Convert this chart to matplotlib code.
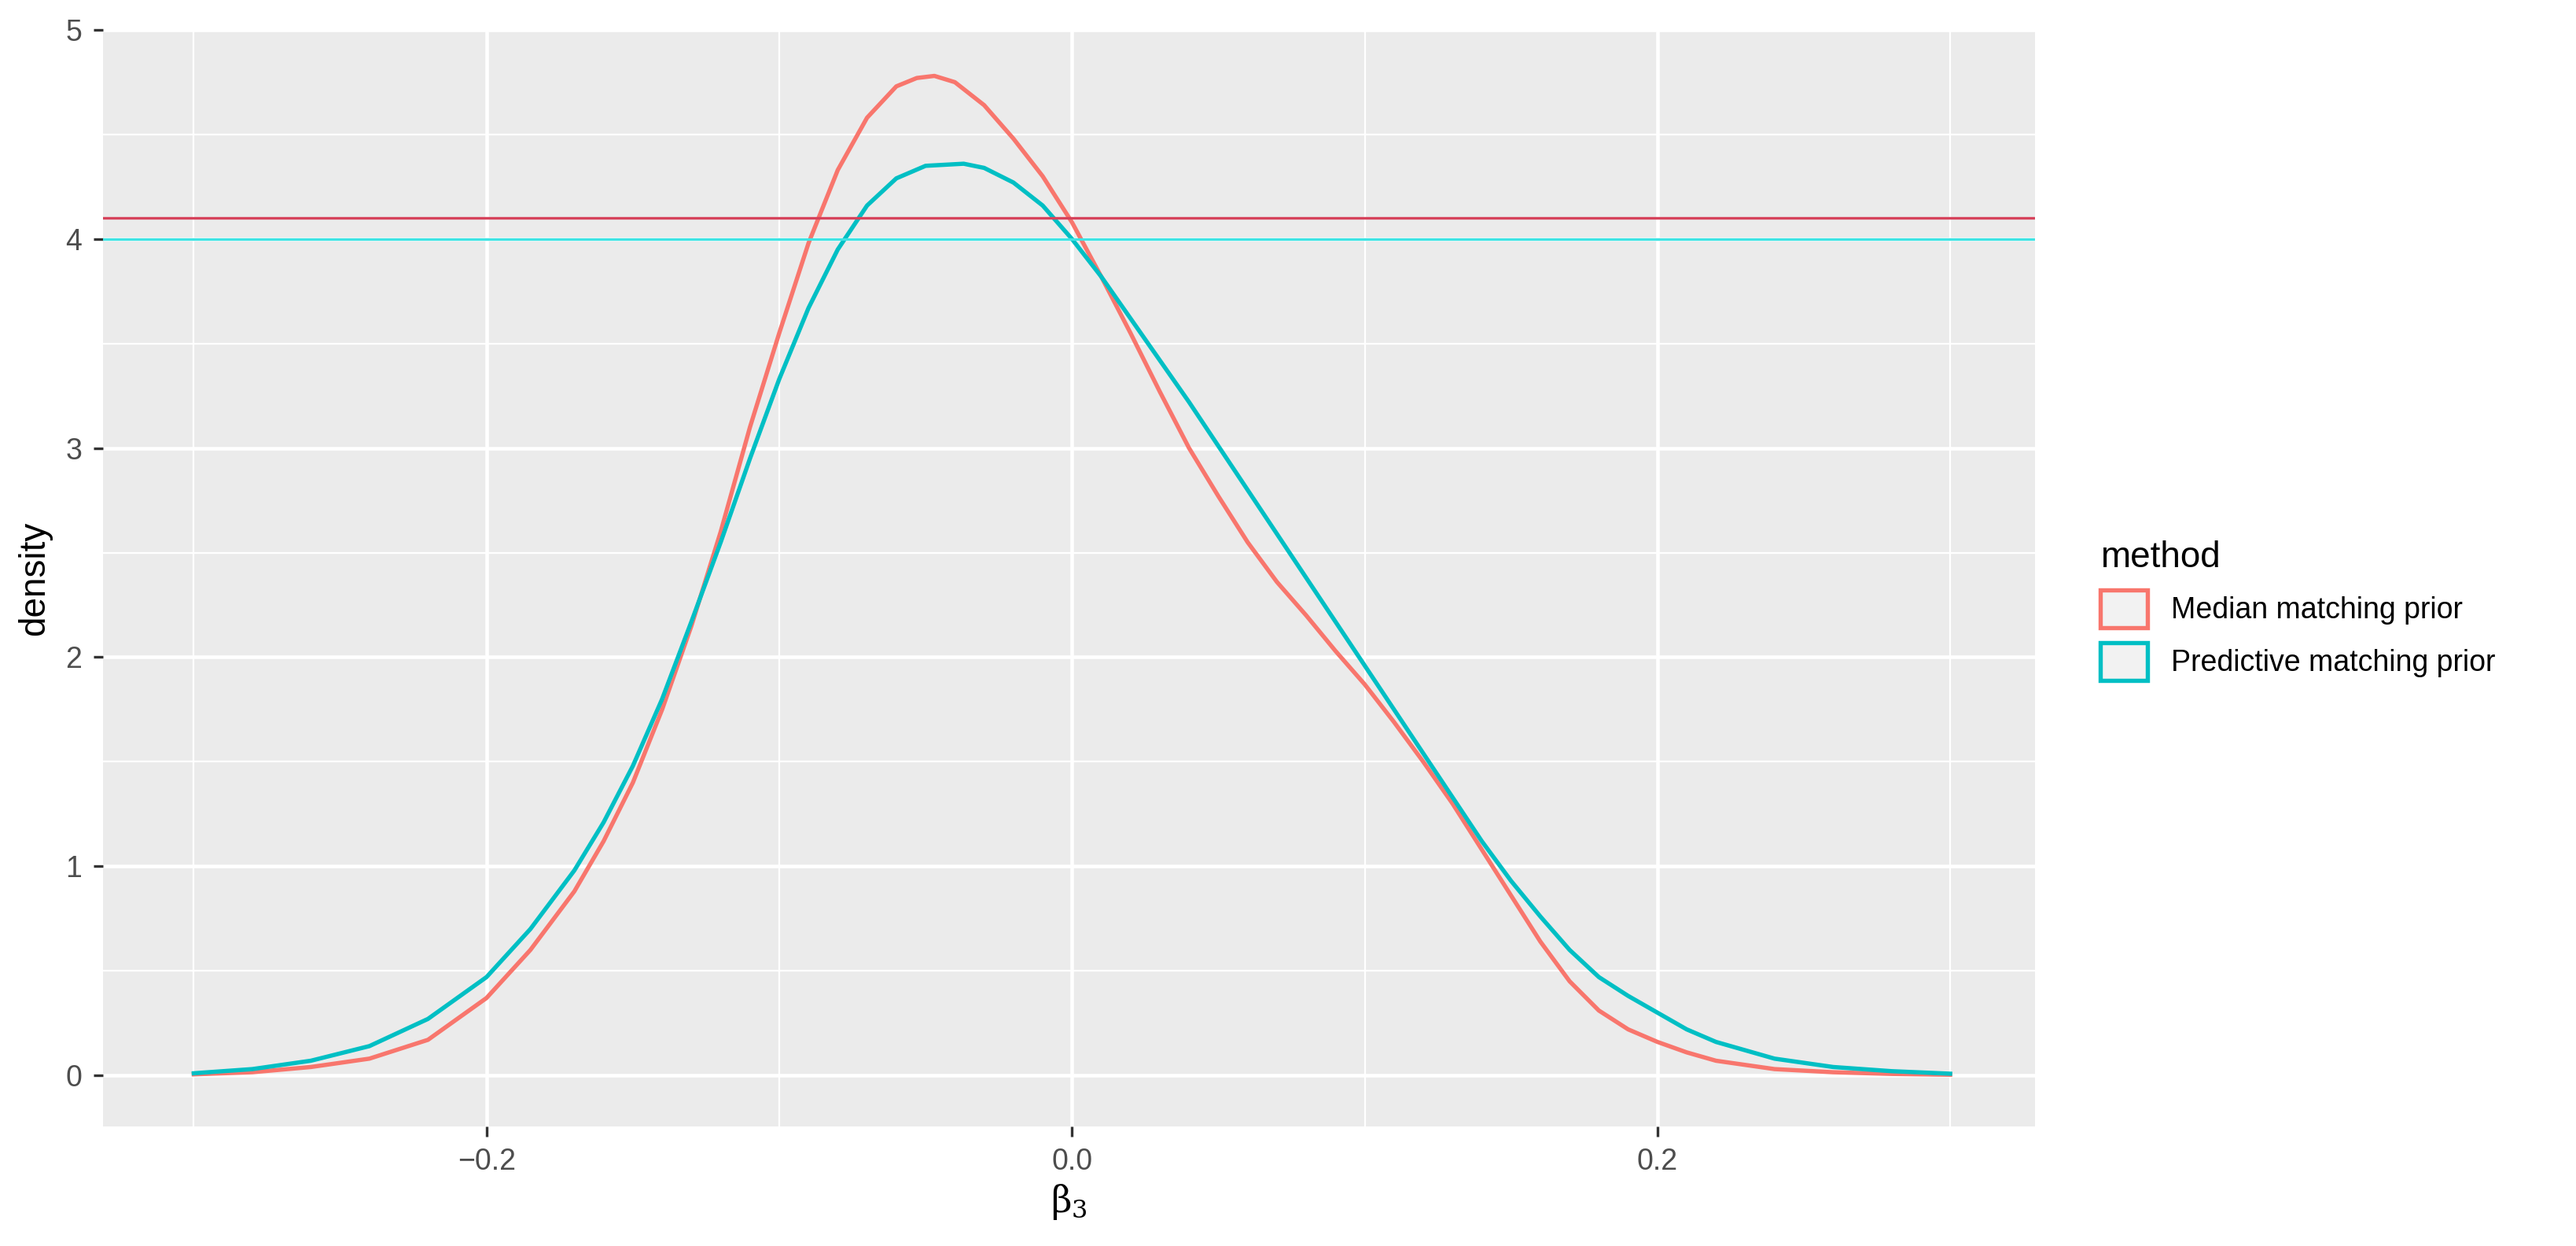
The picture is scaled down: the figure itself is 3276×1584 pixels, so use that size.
import matplotlib.pyplot as plt
from matplotlib.patches import Patch

plt.rcParams['font.family'] = ['Liberation Sans', 'DejaVu Sans']
plt.rcParams['mathtext.fontset'] = 'dejavuserif'

x_median = [-0.3, -0.28, -0.26, -0.24, -0.22, -0.2, -0.185, -0.17, -0.16, -0.15, -0.14, -0.13, -0.12, -0.11,
            -0.1, -0.09, -0.08, -0.07, -0.06, -0.053, -0.047, -0.04, -0.03, -0.02, -0.01, 0.0,
            0.01, 0.02, 0.03, 0.04, 0.05, 0.06, 0.07, 0.08, 0.09, 0.1, 0.11, 0.12, 0.13, 0.14, 0.15,
            0.16, 0.17, 0.18, 0.19, 0.2, 0.21, 0.22, 0.24, 0.26, 0.28, 0.3]
y_median = [0.005, 0.015, 0.04, 0.08, 0.17, 0.37, 0.6, 0.88, 1.12, 1.4, 1.75, 2.15, 2.6, 3.1,
            3.55, 3.98, 4.33, 4.58, 4.73, 4.77, 4.78, 4.75, 4.64, 4.48, 4.3, 4.08,
            3.82, 3.55, 3.27, 3.0, 2.77, 2.55, 2.36, 2.2, 2.03, 1.87, 1.69, 1.5, 1.3, 1.08, 0.86,
            0.64, 0.45, 0.31, 0.22, 0.16, 0.11, 0.07, 0.03, 0.015, 0.007, 0.003]
x_pred = [-0.3, -0.28, -0.26, -0.24, -0.22, -0.2, -0.185, -0.17, -0.16, -0.15, -0.14, -0.13, -0.12, -0.11,
          -0.1, -0.09, -0.08, -0.07, -0.06, -0.05, -0.037, -0.03, -0.02, -0.01, 0.0,
          0.01, 0.02, 0.03, 0.04, 0.05, 0.06, 0.07, 0.08, 0.09, 0.1, 0.11, 0.12, 0.13, 0.14, 0.15,
          0.16, 0.17, 0.18, 0.19, 0.2, 0.21, 0.22, 0.24, 0.26, 0.28, 0.3]
y_pred = [0.01, 0.03, 0.07, 0.14, 0.27, 0.47, 0.7, 0.98, 1.21, 1.48, 1.8, 2.17, 2.55, 2.95,
          3.33, 3.67, 3.95, 4.16, 4.29, 4.35, 4.36, 4.34, 4.27, 4.16, 4.0,
          3.82, 3.62, 3.42, 3.22, 3.01, 2.8, 2.59, 2.38, 2.17, 1.96, 1.75, 1.54, 1.33, 1.12, 0.93,
          0.76, 0.6, 0.47, 0.38, 0.3, 0.22, 0.16, 0.08, 0.04, 0.02, 0.008]
h_median = 4.1
h_pred = 4.0
labels = ["Median matching prior", "Predictive matching prior"]
colors = ["#F8766D", "#00BFC4"]

fig = plt.figure(figsize=(10.92, 5.28), dpi=300)
ax = fig.add_axes([0.04, 0.096, 0.75, 0.88])
ax.set_facecolor("#EBEBEB")
for s in ax.spines.values():
    s.set_visible(False)
ax.set_xticks([-0.2, 0.0, 0.2])
ax.set_xticklabels(["\u22120.2", "0.0", "0.2"])
ax.set_xticks([-0.3, -0.1, 0.1, 0.3], minor=True)
ax.set_yticks([0, 1, 2, 3, 4, 5])
ax.set_yticks([0.5, 1.5, 2.5, 3.5, 4.5], minor=True)
ax.grid(which="major", color="white", lw=1.1)
ax.grid(which="minor", color="white", lw=0.55)
ax.set_axisbelow(True)
ax.tick_params(which="major", length=3, color="#333333", labelsize=9, labelcolor="#4D4D4D")
ax.tick_params(which="minor", length=0)

ax.plot(x_median, y_median, color=colors[0], lw=1.3)
ax.plot(x_pred, y_pred, color=colors[1], lw=1.3)
ax.axhline(h_median, color="#D6435B", lw=0.8)
ax.axhline(h_pred, color="#3FE3E3", lw=0.8)
ax.set_xlim(-0.331, 0.329)
ax.set_ylim(-0.244, 5.0)
ax.set_xlabel(r"$\mathrm{\beta}_3$", fontsize=11, labelpad=2)
ax.set_ylabel("density", fontsize=11)

handles = [Patch(facecolor="#F2F2F2", edgecolor=c, lw=1.3) for c in colors]
fig.legend(handles, labels, title="method", loc="center left", bbox_to_anchor=(0.805, 0.51),
           frameon=False, fontsize=9, title_fontsize=11, alignment="left",
           handlelength=1.6, handleheight=1.6)
fig.savefig("out.png", dpi=300)
